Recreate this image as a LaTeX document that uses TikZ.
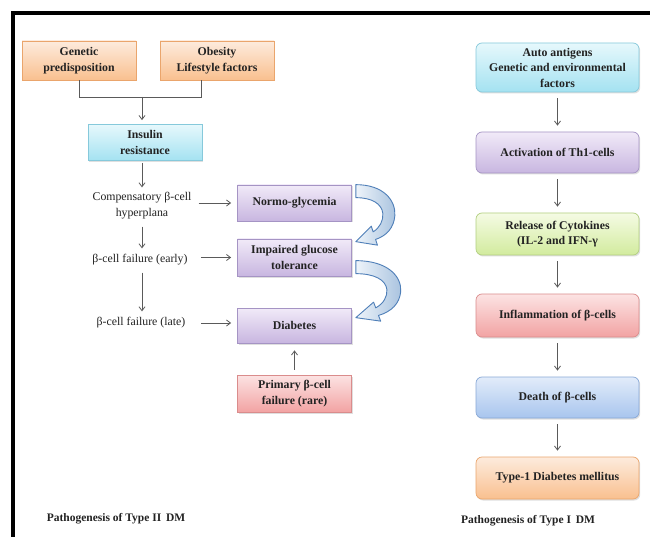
\documentclass[tikz,border=0pt]{standalone}
\usepackage{fontspec}
\setmainfont{Liberation Serif}
\usetikzlibrary{arrows.meta,shadows,calc}
\definecolor{txt}{HTML}{222222}
\definecolor{lin}{HTML}{5A5A5A}
\definecolor{or1}{HTML}{FDEBDD}\definecolor{or2}{HTML}{F9C08F}\definecolor{orb}{HTML}{EAA56C}
\definecolor{cy1}{HTML}{E6F8FC}\definecolor{cy2}{HTML}{A4E2F1}\definecolor{cyb}{HTML}{86C9DB}
\definecolor{pu1}{HTML}{F1EAF8}\definecolor{pu2}{HTML}{C8B6E0}\definecolor{pub}{HTML}{A594C4}
\definecolor{rd1}{HTML}{FCE3E3}\definecolor{rd2}{HTML}{F2A3A3}\definecolor{rdb}{HTML}{DA8C8C}
\definecolor{gr1}{HTML}{F5FBE4}\definecolor{gr2}{HTML}{D2EB9E}\definecolor{grb}{HTML}{B2CF80}
\definecolor{bl1}{HTML}{E2ECFA}\definecolor{bl2}{HTML}{A8C5EE}\definecolor{blb}{HTML}{88A8D6}
\definecolor{ca1}{HTML}{EEF4FA}\definecolor{ca2}{HTML}{A9C3DF}\definecolor{cab}{HTML}{4F7FB8}
\begin{document}
\begin{tikzpicture}[x=1pt,y=-1pt,
  box/.style={draw, rectangle, minimum width=114pt, align=center, text=txt,
    font=\fontsize{11.8}{15.5}\selectfont\bfseries, inner sep=2pt, line width=0.7pt,
    drop shadow={opacity=0.25, shadow xshift=1.2pt, shadow yshift=-1.5pt}},
  obox/.style={box, top color=or1, bottom color=or2, draw=orb},
  cbox/.style={box, top color=cy1, bottom color=cy2, draw=cyb},
  pbox/.style={box, top color=pu1, bottom color=pu2, draw=pub},
  rbox/.style={box, top color=rd1, bottom color=rd2, draw=rdb},
  gbox/.style={box, top color=gr1, bottom color=gr2, draw=grb},
  bbox/.style={box, top color=bl1, bottom color=bl2, draw=blb},
  wide/.style={minimum width=163pt, rounded corners=6pt},
  plain/.style={align=center, text=txt, font=\fontsize{11.8}{16}\selectfont, inner sep=1pt},
  ttl/.style={text=txt, font=\fontsize{11.5}{14}\selectfont\bfseries, inner sep=0pt},
  con/.style={draw=lin, line width=0.8pt},
  arr/.style={con, -{Straight Barb[length=4pt,width=6pt]}},
  blockarr/.style={left color=ca1, right color=ca2, draw=cab, line width=0.9pt, line join=round},
  curvarr/.pic={
    \path[blockarr] (0,-1) .. controls (28,-1) and (40,15) .. (39,30)
      .. controls (38,42) and (31,50) .. (19.7,53.8)
      -- (21.6,59.5) -- (0,56) -- (15.4,40.5) -- (17.3,46.2)
      .. controls (24,42) and (27.5,35) .. (27,28)
      .. controls (26,18) and (16,12) .. (0,12) -- cycle;
  }
]
\useasboundingbox[fill=white] (0,0) rectangle (650,537);
\draw[line width=4pt, line join=miter] (13,537) -- (13,13) -- (650,13);

% Type II
\node[obox, minimum height=39pt] (gen) at (79,60.5) {Genetic\\predisposition};
\node[obox, minimum height=39pt] (obe) at (217,60.5) {Obesity\\Lifestyle factors};
\node[cbox, minimum height=36pt] (ins) at (145,142.5) {Insulin\\resistance};
\coordinate (junc) at (142,97);
\draw[con] (gen.south) |- (junc);
\draw[con] ([xshift=-16pt]obe.south) |- (junc);
\draw[arr, shorten >=4pt] (junc) -- (junc |- ins.north);

\node[plain] (comp) at (142,206) {Compensatory β-cell\\hyperplana};
\node[plain] (early) at (140,260) {β-cell failure (early)};
\node[plain] (late) at (141,323) {β-cell failure (late)};

\node[pbox, minimum height=36pt] (normo) at (294.5,203) {Normo-glycemia};
\node[pbox, minimum height=37pt] (imp) at (294.5,257.5) {Impaired glucose\\tolerance};
\node[pbox, minimum height=35pt] (diab) at (294.5,325.5) {Diabetes};
\node[rbox, minimum height=37pt] (prim) at (294.5,393.5) {Primary β-cell\\failure (rare)};

\draw[arr, shorten <=2pt, shorten >=4pt] (ins.south -| comp.north) -- (comp.north);
\draw[arr, shorten <=6pt, shorten >=5pt] (comp.south) -- (comp.south |- early.north);
\draw[arr, shorten <=6pt, shorten >=5pt] (comp.south |- early.south) -- (comp.south |- late.north);
\draw[arr, shorten <=6pt, shorten >=6pt] (comp.east |- normo.west) -- (normo.west);
\draw[arr, shorten <=12pt, shorten >=6pt] (early.east |- imp.west) -- (imp.west);
\draw[arr, shorten <=15pt, shorten >=6pt] (late.east) -- (late.east -| diab.west);
\draw[arr, shorten <=5pt, shorten >=7pt] (prim.north) -- (diab.south);

\pic at ([xshift=4pt, yshift=-1pt]normo.north east) {curvarr};
\pic[xscale=1.15] at ([xshift=4pt, yshift=-23pt]imp.north east) {curvarr};

\node[ttl] (t2) at (116,519) {Pathogenesis of Type II\, DM};

% Type I
\node[cbox, wide, minimum height=49pt] (auto) at (557.5,67.5) {Auto antigens\\Genetic and environmental\\factors};
\node[pbox, wide, minimum height=41pt] (act) at (557.5,152.5) {Activation of Th1-cells};
\node[gbox, wide, minimum height=42pt] (rel) at (557.5,234) {Release of Cytokines\\(IL-2 and IFN-γ};
\node[rbox, wide, minimum height=43pt] (inf) at (557.5,315.5) {Inflammation of β-cells};
\node[bbox, wide, minimum height=41pt] (dea) at (557.5,397.5) {Death of β-cells};
\node[obox, wide, minimum height=42pt] (t1) at (557.5,478) {Type-1 Diabetes mellitus};
\foreach \a/\b in {auto/act, act/rel, rel/inf, inf/dea, dea/t1}
  \draw[arr, shorten <=6pt, shorten >=6pt] (\a.south) -- (\b.north);

\node[ttl] (t1t) at (528,521) {Pathogenesis of Type I\, DM};
\end{tikzpicture}
\end{document}
